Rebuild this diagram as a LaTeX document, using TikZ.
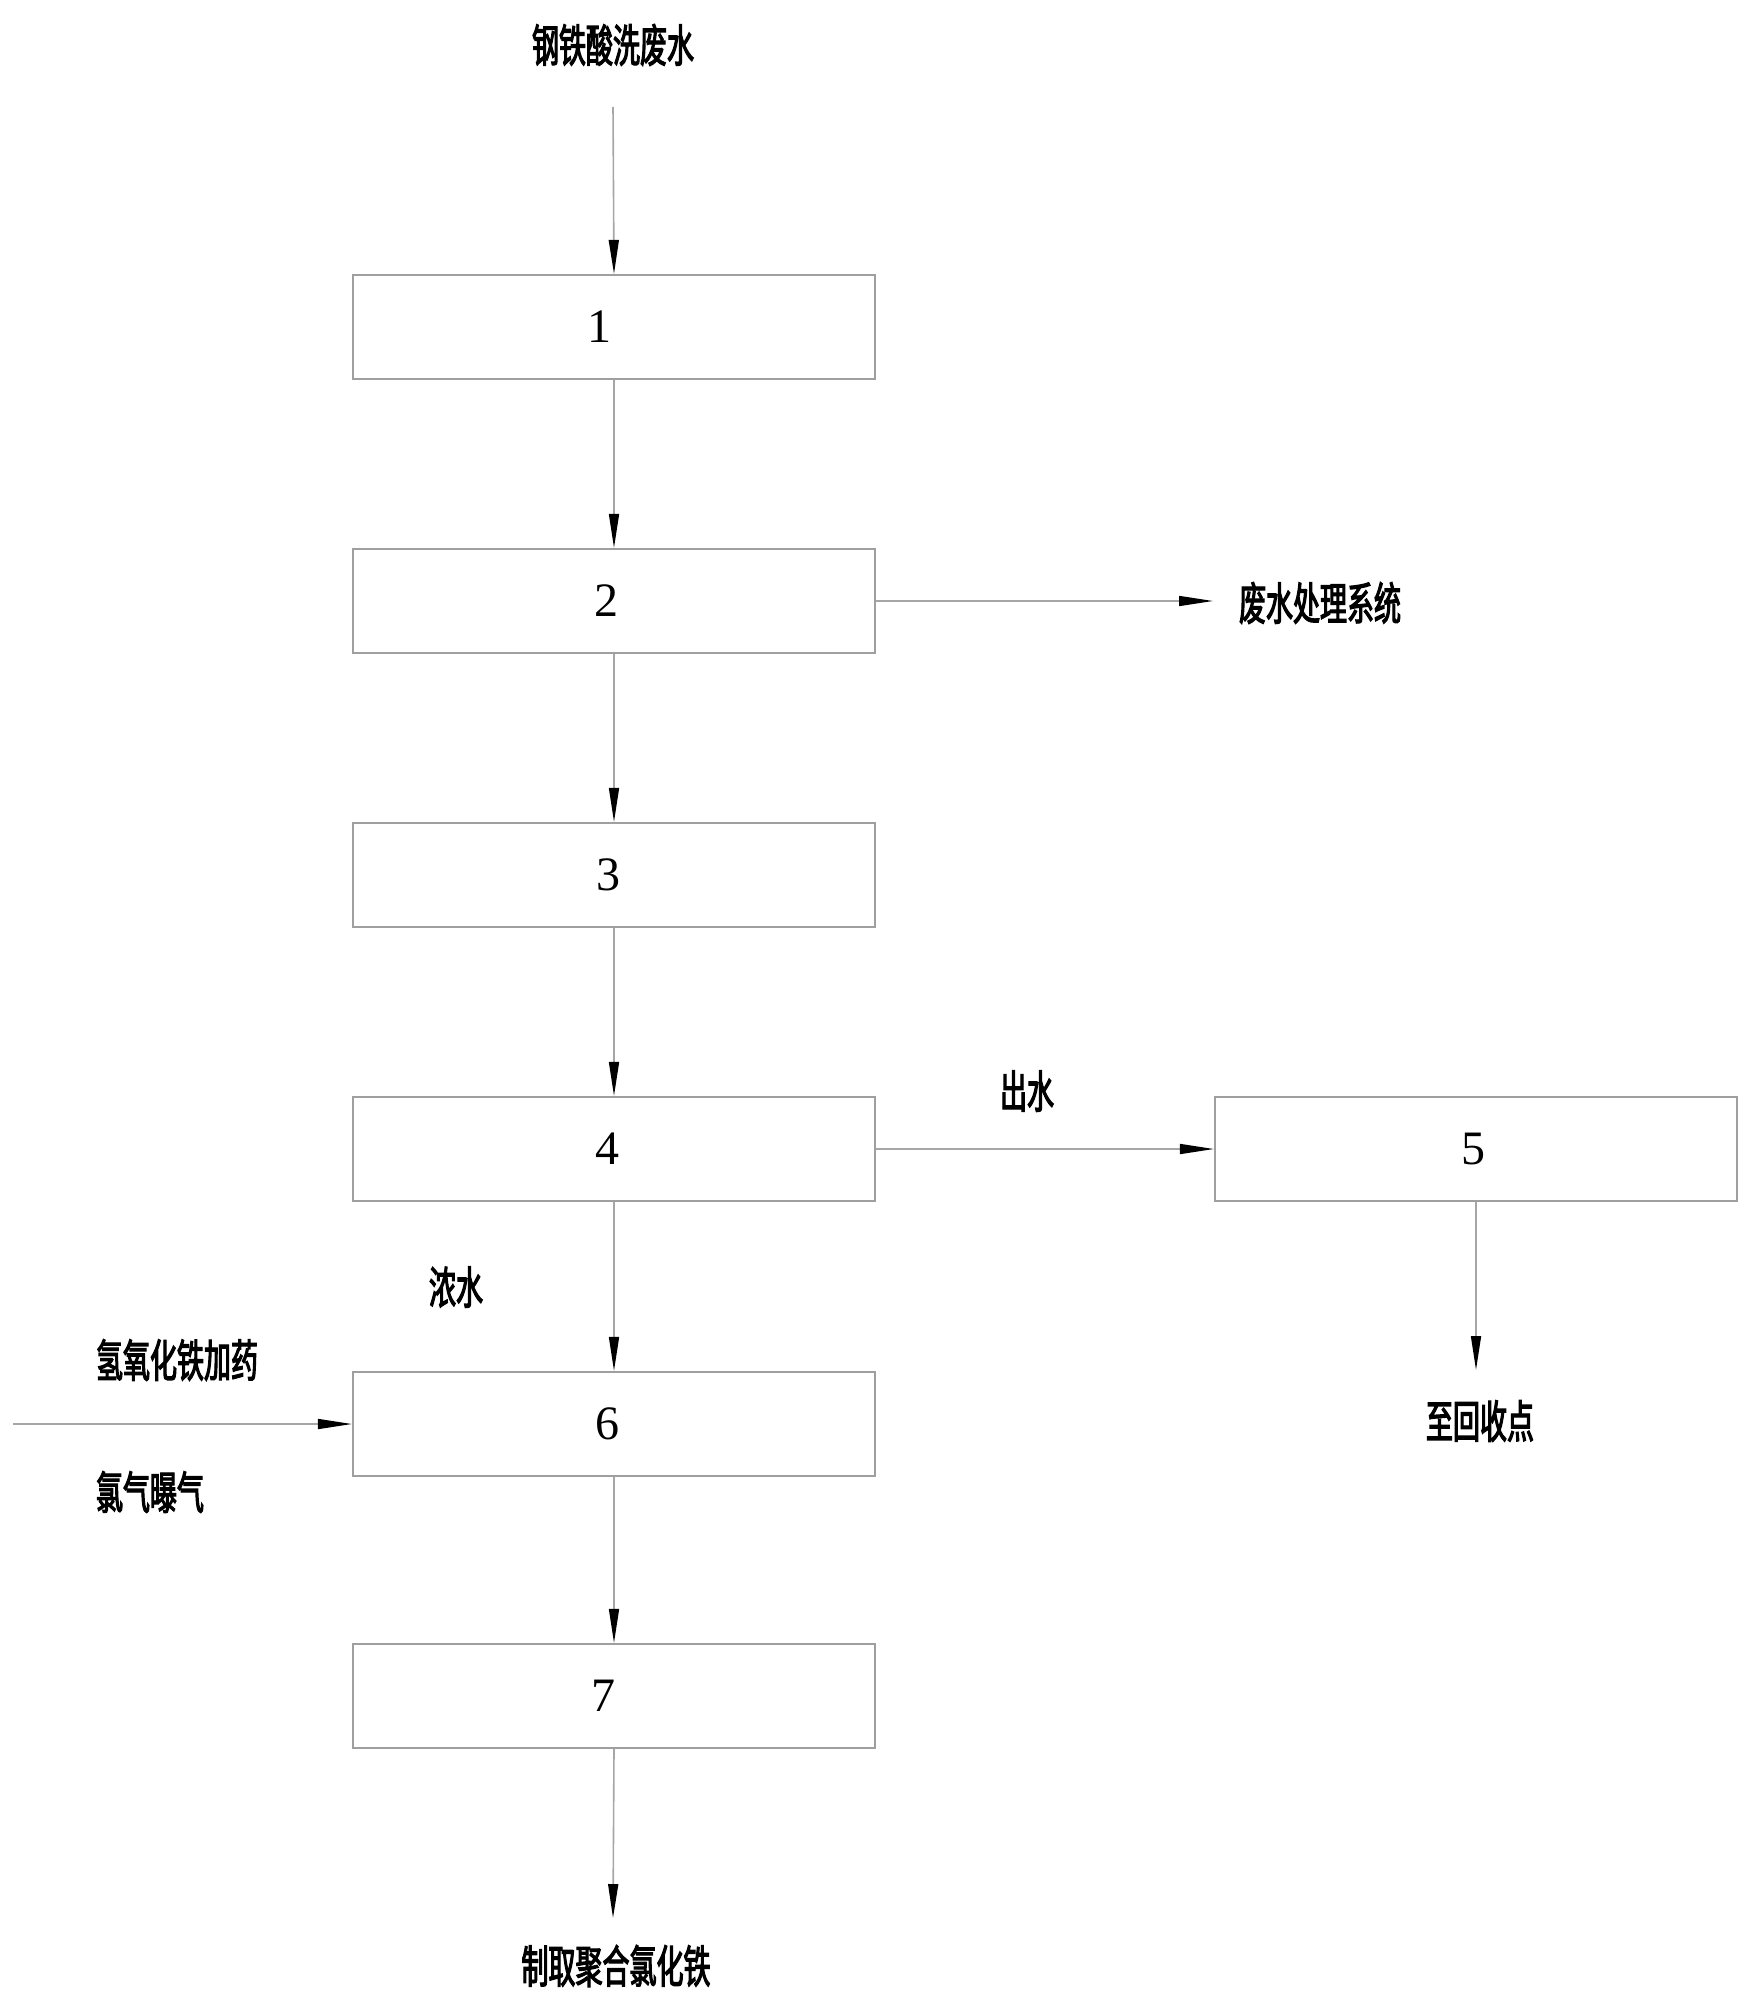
\documentclass[tikz,border=0pt]{standalone}
\usepackage{fontspec}
\newfontfamily\cjk[FakeStretch=0.6,FakeBold=2.5]{Noto Sans CJK SC}
\newfontfamily\numfont{Liberation Serif}
\usetikzlibrary{arrows.meta}
\begin{document}
\begin{tikzpicture}[x=1pt,y=-1pt,
  stage/.style={draw=gray!75,line width=2.2pt,fill=white,minimum width=522pt,minimum height=104pt,inner sep=0pt,font=\numfont\fontsize{48}{48}\selectfont},
  lbl/.style={inner sep=0pt,font=\cjk\fontsize{45}{48}\selectfont},
  flow/.style={draw=gray!70,line width=1.6pt,-{Triangle[length=34pt,width=10pt,fill=black,color=black]}},
  plain/.style={draw=gray!70,line width=1.6pt}]
\useasboundingbox (0,0) rectangle (1753,2012);
\node[stage] (b1) at (614,327) {\hspace*{-30pt}1};
\node[stage] (b2) at (614,601) {\hspace*{-16pt}2};
\node[stage] (b3) at (614,875) {\hspace*{-12pt}3};
\node[stage] (b4) at (614,1149) {\hspace*{-14pt}4};
\node[stage] (b6) at (614,1424) {\hspace*{-14pt}6};
\node[stage] (b7) at (614,1696) {\hspace*{-22pt}7};
\node[stage] (b5) at (1476,1149) {\hspace*{-6pt}5};

\node[lbl] (tin) at (613,45) {钢铁酸洗废水};
\node[lbl] (tws) at (1320,603) {废水处理系统};
\node[lbl] (tout) at (1027,1091) {出水};
\node[lbl] (tcon) at (456,1287) {浓水};
\node[lbl] (tfe) at (177,1360) {氢氧化铁加药};
\node[lbl] (tcl) at (150,1492) {氯气曝气};
\node[lbl] (trec) at (1480,1421) {至回收点};
\node[lbl] (tpfc) at (616,1966) {制取聚合氯化铁};

\coordinate (cin) at (613,107);
\coordinate (cws) at (1213,601);
\coordinate (cleft) at (13,1424);
\coordinate (crec) at (1476,1370);
\coordinate (cpfc) at (613,1918);

\draw[flow] (cin) -- (b1.north);
\draw[flow] (b1.south) -- (b2.north);
\draw[flow] (b2.south) -- (b3.north);
\draw[flow] (b3.south) -- (b4.north);
\draw[flow] (b4.south) -- (b6.north);
\draw[flow] (b6.south) -- (b7.north);
\draw[flow] (b7.south) -- (cpfc);
\draw[flow] (b2.east) -- (cws);
\draw[flow] (b4.east) -- (b5.west);
\draw[flow] (b5.south) -- (crec);
\draw[flow] (cleft) -- (b6.west);
\end{tikzpicture}
\end{document}
